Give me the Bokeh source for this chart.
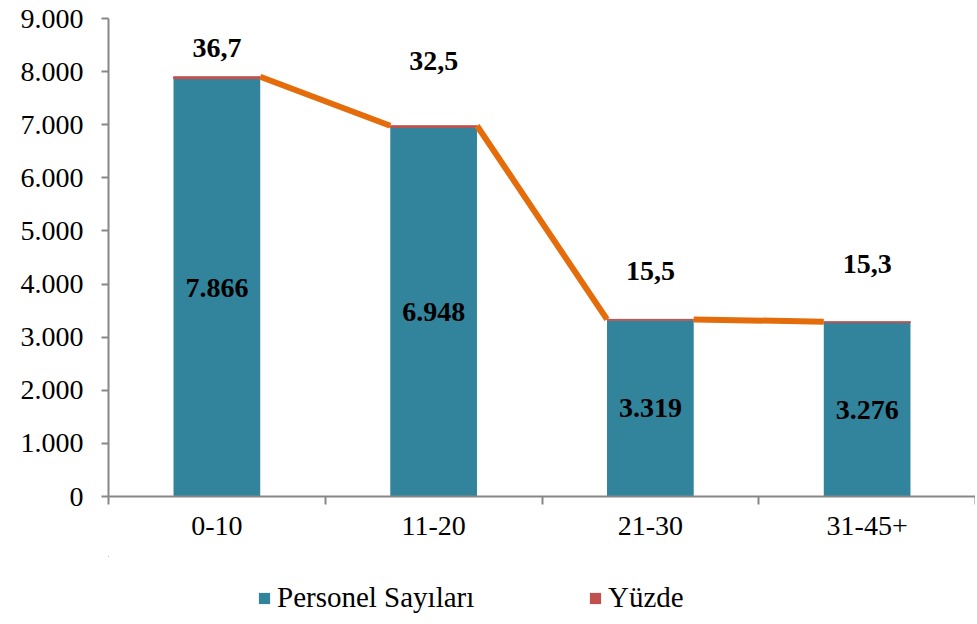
from bokeh.plotting import figure
from bokeh.layouts import column
from bokeh.models import Range1d, FixedTicker, Legend, LegendItem, ColumnDataSource
from bokeh.core.properties import value
from bokeh.embed import file_html
from bokeh.resources import INLINE

# ---- data ----
categories = ["0-10", "11-20", "21-30", "31-45+"]
personel = [7866, 6948, 3319, 3276]
yuzde = [36.7, 32.5, 15.5, 15.3]
y_ticks = [0, 1000, 2000, 3000, 4000, 5000, 6000, 7000, 8000, 9000]
series_names = ["Personel Sayıları", "Yüzde"]

# ---- styles ----
TEAL = "#31849B"
RED = "#C0504D"
ORANGE = "#E46C0A"
AXIS = "#878787"
FONT = "Liberation Serif"
BAR_W = 0.4
pct_label_lift_px = [29, 65, 48, 58]

xs = [i + 0.5 for i in range(len(categories))]
tops = [p_ + y_ for p_, y_ in zip(personel, yuzde)]

src = ColumnDataSource(dict(
    x=xs,
    personel=personel,
    yuzde=yuzde,
    top=tops,
    mid=[v / 2 for v in personel],
    plab=[f"{v:,}".replace(",", ".") for v in personel],
    ylab=[f"{v:.1f}".replace(".", ",") for v in yuzde],
    yoff=[-o for o in pct_label_lift_px],
))

p = figure(width=975, height=556, output_backend="svg", toolbar_location=None,
           x_range=Range1d(0, len(categories)), y_range=Range1d(0, 9000),
           min_border_left=108, min_border_right=0, min_border_top=18, min_border_bottom=60)
p.outline_line_color = None
p.xgrid.visible = False
p.ygrid.visible = False
p.background_fill_color = "white"

r1 = p.vbar(x="x", top="personel", bottom=0, width=BAR_W, source=src,
            fill_color=TEAL, line_color=None)
r2 = p.vbar(x="x", top="top", bottom="personel", width=BAR_W, source=src,
            fill_color=RED, line_color=RED, line_width=1)

# series lines (Excel style): right edge of bar i to left edge of bar i+1
seg = ColumnDataSource(dict(
    x0=[xs[i] + BAR_W / 2 for i in range(len(xs) - 1)],
    y0=tops[:-1],
    x1=[xs[i + 1] - BAR_W / 2 for i in range(len(xs) - 1)],
    y1=tops[1:],
))
p.segment(x0="x0", y0="y0", x1="x1", y1="y1", source=seg,
          line_color=ORANGE, line_width=6)

p.text(x="x", y="mid", text="plab", source=src, text_font=value(FONT),
       text_font_style="bold", text_font_size="28px", text_color="black",
       text_align="center", text_baseline="middle")
p.text(x="x", y="top", text="ylab", y_offset="yoff", source=src, text_font=value(FONT),
       text_font_style="bold", text_font_size="28px", text_color="black",
       text_align="center", text_baseline="middle")

# axes
p.xaxis.ticker = FixedTicker(ticks=xs, minor_ticks=list(range(len(categories) + 1)))
p.xaxis.major_label_overrides = {x: c for x, c in zip(xs, categories)}
p.xaxis.major_tick_line_color = None
p.xaxis.minor_tick_line_color = AXIS
p.xaxis.minor_tick_line_width = 2
p.xaxis.minor_tick_out = 8
p.xaxis.minor_tick_in = 0
p.xaxis.axis_line_color = AXIS
p.xaxis.axis_line_width = 2
p.xaxis.major_label_standoff = 12
p.xaxis.major_label_text_font = FONT
p.xaxis.major_label_text_font_size = "28px"
p.xaxis.major_label_text_color = "black"

p.yaxis.ticker = FixedTicker(ticks=y_ticks, minor_ticks=[])
p.yaxis.major_label_overrides = {t: f"{t:,}".replace(",", ".") for t in y_ticks}
p.yaxis.major_tick_line_color = AXIS
p.yaxis.major_tick_line_width = 2
p.yaxis.major_tick_out = 7
p.yaxis.major_tick_in = 0
p.yaxis.axis_line_color = AXIS
p.yaxis.axis_line_width = 2
p.yaxis.major_label_standoff = 18
p.yaxis.major_label_text_font = FONT
p.yaxis.major_label_text_font_size = "28px"
p.yaxis.major_label_text_color = "black"

# ---- legend strip below the chart ----
# the strip's ranges lie far outside the data, so its bars only serve as legend keys
lg = figure(width=975, height=66, output_backend="svg", toolbar_location=None,
            x_range=Range1d(100, 101), y_range=Range1d(-2, -1),
            x_axis_type=None, y_axis_type=None, min_border=0)
lg.outline_line_color = None
lg.xgrid.visible = False
lg.ygrid.visible = False
k1 = lg.vbar(x="x", top="personel", bottom=0, width=BAR_W, source=src,
             fill_color=TEAL, line_color=None)
k2 = lg.vbar(x="x", top="top", bottom="personel", width=BAR_W, source=src,
             fill_color=RED, line_color=None)

legend = Legend(items=[LegendItem(label=series_names[0], renderers=[k1]),
                       LegendItem(label=series_names[1], renderers=[k2])],
                orientation="horizontal", location=(149, 8),
                border_line_color=None, background_fill_alpha=0,
                label_text_font=FONT, label_text_font_size="29px",
                label_text_color="black",
                glyph_width=14, glyph_height=14, label_height=28, label_width=215,
                spacing=96, padding=0, margin=0, label_standoff=6)
lg.add_layout(legend)

open("out.html", "w").write(file_html(column(p, lg, spacing=0), INLINE))
